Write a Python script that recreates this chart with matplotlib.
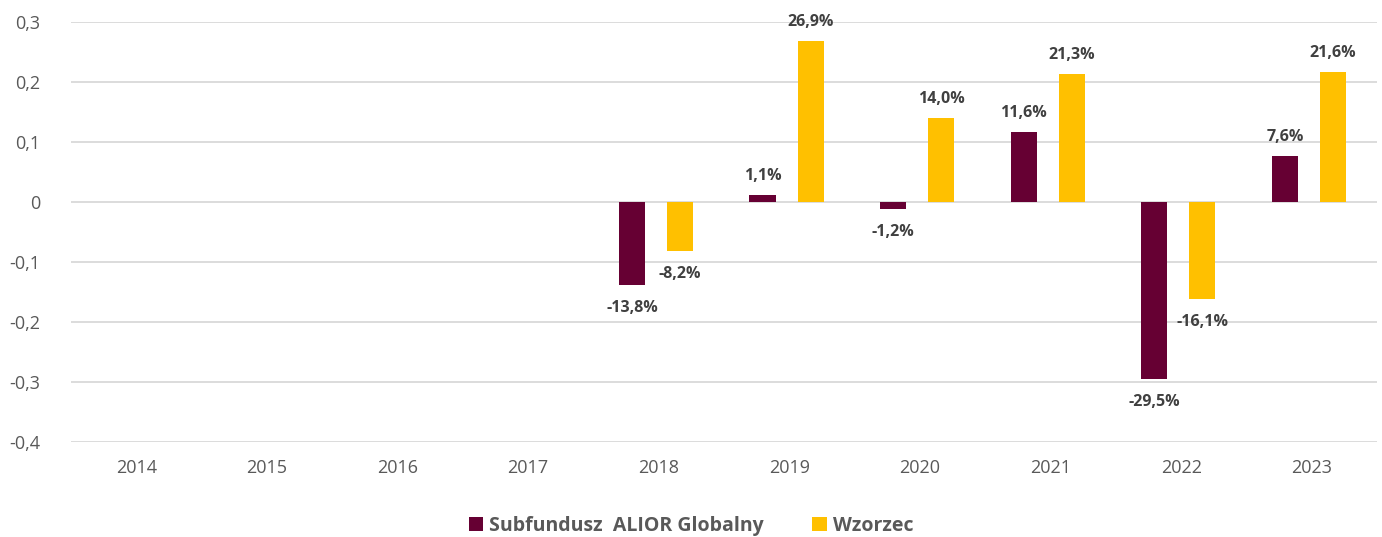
import numpy as np
import matplotlib.pyplot as plt
from matplotlib.ticker import FuncFormatter

# dane
years = ["2014", "2015", "2016", "2017", "2018", "2019", "2020", "2021", "2022", "2023"]
fund = [np.nan, np.nan, np.nan, np.nan, -0.138, 0.011, -0.012, 0.116, -0.295, 0.076]
bench = [np.nan, np.nan, np.nan, np.nan, -0.082, 0.269, 0.140, 0.213, -0.161, 0.216]
series_names = ["Subfundusz  ALIOR Globalny", "Wzorzec"]
colors = ["#660033", "#FFC000"]

plt.rcParams['font.family'] = ['Open Sans', 'DejaVu Sans']

fig = plt.figure(figsize=(13.82, 5.37), dpi=100)
ax = fig.add_axes([0.0514, 0.177, 0.945, 0.782])

x = np.arange(len(years))
w = 0.2
shifts = [-0.205, 0.163]

for vals, shift, col, name in [(fund, shifts[0], colors[0], series_names[0]),
                               (bench, shifts[1], colors[1], series_names[1])]:
    ax.bar(x + shift, vals, width=w, color=col, label=name, zorder=3)
    for xi, v in zip(x, vals):
        if np.isnan(v):
            continue
        txt = f"{v*100:.1f}%".replace(".", ",")
        dy = 8 if v >= 0 else -11
        ax.annotate(txt, (xi + shift, v), xytext=(0, dy), textcoords="offset points",
                    ha="center", va="bottom" if v >= 0 else "top",
                    fontsize=11.5, fontweight="bold", color="#404040")

ax.set_xlim(-0.5, len(years) - 0.5)
ax.set_ylim(-0.4, 0.3)
ax.set_yticks(np.arange(-0.4, 0.31, 0.1))
ax.yaxis.set_major_formatter(FuncFormatter(
    lambda v, p: "0" if abs(v) < 1e-9 else f"{v:.1f}".replace(".", ",")))
ax.set_xticks(x)
ax.set_xticklabels(years)
ax.tick_params(axis="both", length=0, labelsize=13, labelcolor="#595959")
ax.tick_params(axis="y", pad=22)
ax.tick_params(axis="x", pad=12)
ax.grid(axis="y", color="#D9D9D9", linewidth=1.3, zorder=0)
for s in ax.spines.values():
    s.set_visible(False)

leg = fig.legend(loc="lower center", bbox_to_anchor=(0.5, -0.03), ncol=2, frameon=False,
                 handlelength=0.75, handleheight=0.75, handletextpad=0.3, columnspacing=2.5,
                 prop={"size": 14, "weight": "bold"})
for t in leg.get_texts():
    t.set_color("#595959")

fig.savefig("out.png", dpi=100)
